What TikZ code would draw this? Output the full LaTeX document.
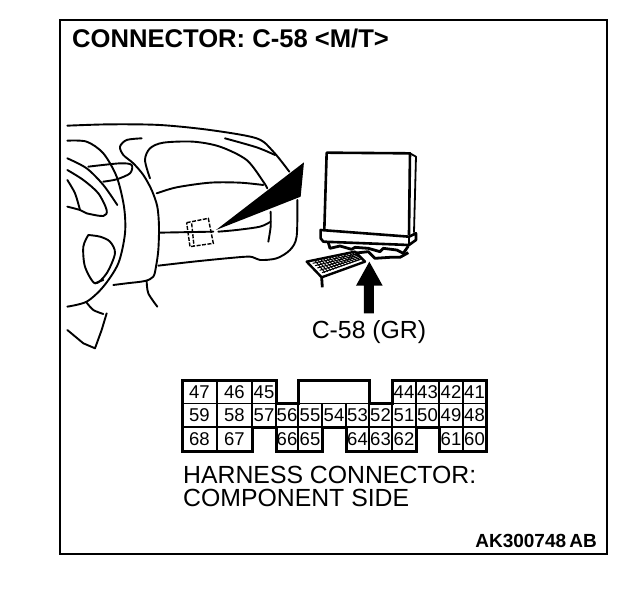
\documentclass[tikz,border=0pt]{standalone}
\usepackage{fontspec}
\setmainfont{Liberation Sans}
\usetikzlibrary{positioning}
\begin{document}
\begin{tikzpicture}[x=1pt,y=-1pt,
  pincell/.style={rectangle, draw, line width=1.5pt, inner sep=0pt, text height=13pt, text depth=0pt, font=\fontsize{18.5}{18.5}\selectfont},
  sketch/.style={line width=1.9pt, line cap=round, line join=round},
  caption/.style={anchor=base west, inner sep=0pt, font=\fontsize{24.8}{24.8}\selectfont}]
  \def\rowh{23.5}
  \def\rowa{391.7}
  \def\rowb{415}
  \def\rowc{439}

  % Fixed bounding box
  \path[use as bounding box] (0,0) rectangle (640,598);

  % Frame
  \draw[line width=1.5pt] (60,20) rectangle (607,554);

  % Title
  \node[anchor=base west, inner sep=0pt, font=\fontsize{25.6}{25.6}\selectfont\bfseries] (title) at (72,47) {CONNECTOR: C-58 <M/T>};

  % Dashboard, in crop coordinates
  \begin{scope}[xshift=60pt, yshift=-110pt, x=0.3333pt, y=-0.3333pt]
    \draw[sketch] plot[smooth] coordinates {(22,47) (150,43) (300,45) (450,60) (590,85) (640,125) (688,185)};
    \draw[sketch] plot[smooth] coordinates {(495,85) (590,112) (645,135)};
    \draw[sketch] plot[smooth] coordinates {(270,205) (255,150) (270,115) (310,98) (400,95) (480,110) (560,150) (610,215) (622,235)};
    \draw[sketch] plot[smooth] coordinates {(290,250) (350,232) (450,218) (540,218) (610,225)};
    \draw[sketch] plot[smooth] coordinates {(245,85) (200,90) (180,110) (190,135) (220,160) (250,195) (275,240) (292,290) (297,350) (295,420) (288,470) (280,500) (255,513) (200,520) (160,525)};
    % Steering wheel
    \draw[sketch] plot[smooth] coordinates {(22,92) (80,95) (130,130) (170,200) (192,290) (195,370) (175,460) (130,530) (80,575) (22,590)};
    \draw[sketch] plot[smooth] coordinates {(22,145) (80,175) (130,225) (172,285)};
    \draw[sketch] plot[smooth] coordinates {(85,170) (180,160) (215,165) (210,190) (170,208) (130,215)};
    \draw[sketch] plot[smooth] coordinates {(22,180) (70,210) (115,250) (140,300) (130,318) (80,310) (60,300) (22,290)};
    \draw[sketch] plot[smooth] coordinates {(22,210) (45,250) (60,300)};
    \draw[sketch] plot[smooth] coordinates {(85,375) (70,410) (75,470) (105,520) (140,490) (165,430) (150,395) (120,380) (85,375)};
    \draw[sketch] (105,520) -- (130,510);
    \draw[sketch] plot[smooth] coordinates {(80,578) (100,600) (130,612)};
    \draw[sketch] (140,610) -- (125,660) -- (105,715) -- (70,700) -- (22,660);
    \draw[sketch] plot[smooth] coordinates {(260,513) (265,550) (292,590)};
    % Panel lines
    \draw[sketch] (297,368) -- (460,365);
    \draw[sketch] plot[smooth] coordinates {(475,365) (530,360) (600,350) (632,335)};
    \draw[sketch] plot[smooth] coordinates {(632,305) (632,350) (625,395)};
    \draw[sketch] plot[smooth] coordinates {(295,467) (400,455) (500,445) (570,440) (600,450) (650,445) (690,420) (710,380) (712,270)};
    % Location of the connector
    \draw[line width=1.4pt, dash pattern=on 4pt off 1.5pt] (380,338) -- (445,325) -- (460,400) -- (390,410) -- cycle;
    \draw[line width=1.4pt, dash pattern=on 4pt off 1.5pt] (395,340) -- (402,408);
    \fill (468,360) -- (732,157) -- (722,260) -- cycle;
  \end{scope}

  % Control unit, in crop coordinates
  \begin{scope}[xshift=290pt, yshift=-140pt, x=0.3333pt, y=-0.3333pt]
    \draw[line width=2.6pt, line join=round] (103,268) -- (110,38) -- (360,40) -- (357,285);
    \draw[line width=1.8pt, line join=round] (360,40) -- (378,50) -- (372,278);
    \draw[line width=2.6pt, line join=round, fill=white] (92,270) -- (357,290) -- (378,280) -- (378,300) -- (357,315) -- (100,305) -- (92,295) -- cycle;
    \draw[line width=2.4pt] (357,290) -- (357,315);
    % Mounting lugs
    \draw[line width=2.8pt, line join=round] (115,308) -- (120,325) -- (150,318) -- (185,328) -- (195,322) -- (235,325) -- (270,335) -- (280,325) -- (320,330) -- (340,340) -- (355,318);
    \draw[line width=2.8pt, line join=round] (190,340) -- (235,335) -- (255,355) -- (300,352) -- (330,352) -- (355,338);
    % Harness plug
    \draw[line width=2.4pt, line join=round, fill=white] (50,365) -- (195,335) -- (225,365) -- (95,412) -- cycle;
    \foreach \i in {0,...,13} {
      \draw[line width=1pt] ({75+\i*8.6},{362-\i*1.8}) -- ({105+\i*8.6},{398-\i*3.2});
    }
    \foreach \i in {0,...,4} {
      \draw[line width=1pt] ({68+\i*7},{370+\i*7}) -- ({200+\i*3},{342+\i*4});
    }
    \draw[line width=2.8pt] (95,412) -- (97,442);
    % Arrow up to the plug
    \fill (222,520) -- (252,520) -- (252,437) -- (278,437) -- (238,365) -- (198,437) -- (222,437) -- cycle;
  \end{scope}

  \node[caption, anchor=base] (plugname) at (369,338) {C-58 (GR)};

  % Pin rows: left/right/label
  \foreach \xa/\xb/\lab in {182/217/47,217/252/46,252/276/45,392/416/44,416/439/43,439/463/42,463/486/41} {
    \pgfmathsetmacro{\xx}{0.5*(\xa+\xb)}
    \pgfmathsetmacro{\ww}{\xb-\xa}
    \node[pincell, minimum width=\ww pt, minimum height=\rowh pt] (p\lab) at (\xx,\rowa) {\lab};
  }
  \foreach \xa/\xb/\lab in {182/217/59,217/252/58,252/276/57,276/298/56,298/322/55,322/346/54,346/369/53,369/392/52,392/416/51,416/439/50,439/463/49,463/486/48} {
    \pgfmathsetmacro{\xx}{0.5*(\xa+\xb)}
    \pgfmathsetmacro{\ww}{\xb-\xa}
    \node[pincell, minimum width=\ww pt, minimum height=\rowh pt] (p\lab) at (\xx,\rowb) {\lab};
  }
  \foreach \xa/\xb/\lab in {182/217/68,217/252/67,276/298/66,298/322/65,346/369/64,369/392/63,392/416/62,439/463/61,463/486/60} {
    \pgfmathsetmacro{\xx}{0.5*(\xa+\xb)}
    \pgfmathsetmacro{\ww}{\xb-\xa}
    \node[pincell, minimum width=\ww pt, minimum height=\rowh pt] (p\lab) at (\xx,\rowc) {\lab};
  }
  \node[pincell, minimum width=71pt, minimum height=\rowh pt] (pkey) at (333.5,\rowa) {};

  % Thick outline of the connector
  \draw[line width=3pt, line join=miter] (182,380) -| (276,403) -| (298,380) -| (369,403) -| (392,380) -| (486,451) -| (439,427) -| (416,451) -| (346,427) -| (322,451) -| (276,427) -| (252,451) -| (182,380) -- cycle;

  \node[caption] (harness) at (183,483) {HARNESS CONNECTOR:};
  \node[caption] (side) at (183,506) {COMPONENT SIDE};

  \node[anchor=base east, inner sep=0pt, font=\fontsize{19}{19}\selectfont\bfseries] (partno) at (597,547) {AK300748\,AB};
\end{tikzpicture}
\end{document}
